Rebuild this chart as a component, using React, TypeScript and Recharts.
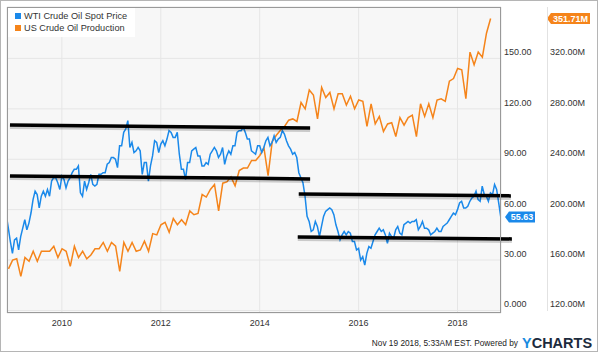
import React from 'react';
import {
  CartesianGrid,
  ComposedChart,
  Line,
  ReferenceLine,
  XAxis,
  YAxis,
} from 'recharts';

const FONT = '"Liberation Sans", Arial, Helvetica, sans-serif';
const BLUE = '#1a89ea';
const ORANGE = '#f5841a';

// WTI spot price, semi-monthly readings (1st / 16th of each month)
const wti2008Times = [2008.89, 2008.917, 2008.958];
const wti2008 = [54, 49, 41];
const wti2009 = [34, 42, 43, 36, 44, 49, 54, 48, 52, 58, 66, 71, 69, 61, 68, 71, 68, 72, 68, 77, 79, 79, 76, 72];
const wti2010 = [80, 78, 73, 77, 79, 82, 84, 84, 86, 70, 68, 77, 72, 76, 81, 75, 74, 75, 81, 81, 82, 82, 87, 88];
const wti2011 = [91, 91, 90, 85, 98, 98, 106, 108, 113, 97, 100, 94, 95, 97, 95, 81, 88, 88, 77, 86, 92, 101, 100, 94];
const wti2012 = [99, 101, 98, 102, 107, 106, 103, 103, 106, 93, 84, 84, 78, 88, 88, 95, 96, 97, 92, 92, 86, 86, 88, 87];
const wti2013 = [93, 95, 97, 95, 91, 93, 97, 87, 92, 95, 93, 98, 98, 106, 107, 107, 109, 106, 102, 102, 95, 94, 93, 98];
const wti2014 = [98, 94, 97, 101, 103, 98, 100, 104, 100, 102, 103, 107, 105, 101, 98, 96, 93, 94, 91, 82, 79, 76, 68, 56];
const wti2015 = [53, 47, 48, 53, 50, 44, 50, 56, 59, 60, 61, 60, 57, 51, 47, 42, 45, 47, 45, 47, 46, 41, 41, 36];
const wti2016 = [37, 30, 32, 27, 34, 38, 37, 41, 45, 47, 49, 47, 48, 45, 40, 46, 44, 43, 48, 50, 46, 45, 51, 52];
const wti2017 = [53, 52, 53, 53, 54, 48, 50, 53, 49, 49, 48, 45, 46, 47, 49, 47, 47, 50, 51, 52, 54, 56, 58, 57];
const wti2018 = [60, 64, 65, 61, 61, 62, 65, 67, 68, 71, 66, 65, 74, 69, 68, 65, 70, 69, 75, 72, 64, 55.63];

// US crude oil production, monthly totals in millions of barrels
const prod2008 = [153, 160];
const prod2009 = [161, 147, 162, 159, 167, 159, 167, 167, 167, 171, 162, 169];
const prod2010 = [167, 155, 171, 162, 167, 161, 164, 169, 169, 174, 167, 174];
const prod2011 = [171, 151, 174, 167, 174, 167, 168, 175, 167, 181, 180, 188];
const prod2012 = [190, 182, 193, 188, 192, 188, 199, 196, 197, 212, 210, 216];
const prod2013 = [220, 199, 221, 222, 226, 219, 231, 233, 233, 239, 239, 243];
const prod2014 = [249, 227, 254, 259, 263, 266, 271, 272, 270, 285, 280, 295];
const prod2015 = [291, 272, 297, 289, 293, 280, 292, 292, 283, 290, 280, 287];
const prod2016 = [286, 266, 284, 268, 274, 262, 268, 269, 258, 273, 267, 273];
const prod2017 = [275, 258, 284, 274, 284, 273, 287, 288, 286, 302, 304, 312];
const prod2018 = [311, 288, 325, 315, 325, 321, 340, 351.71];

const yearTicks = [2010, 2012, 2014, 2016, 2018];
const priceTicks = [0, 30, 60, 90, 120, 150];
const prodTicks = [120, 160, 200, 240, 280, 320];

// hand drawn channel lines (price axis)
const trendLines = [
  { x1: 2008.95, y1: 110.4, x2: 2015.02, y2: 108.6 },
  { x1: 2008.95, y1: 80.1, x2: 2015.02, y2: 78.3 },
  { x1: 2014.79, y1: 69.3, x2: 2019.08, y2: 68.2 },
  { x1: 2014.77, y1: 43.8, x2: 2019.1, y2: 42.6 },
];

const wtiByYear: [number, number[]][] = [
  [2009, wti2009], [2010, wti2010], [2011, wti2011], [2012, wti2012], [2013, wti2013],
  [2014, wti2014], [2015, wti2015], [2016, wti2016], [2017, wti2017], [2018, wti2018],
];

const wtiData = [
  ...wti2008.map((v, i) => ({ t: wti2008Times[i], wti: v })),
  ...wtiByYear.flatMap(([y, vals]) => vals.map((v, i) => ({ t: y + i / 24, wti: v }))),
];

const prodByYear: [number, number, number[]][] = [
  [2008, 10, prod2008], [2009, 0, prod2009], [2010, 0, prod2010], [2011, 0, prod2011],
  [2012, 0, prod2012], [2013, 0, prod2013], [2014, 0, prod2014], [2015, 0, prod2015],
  [2016, 0, prod2016], [2017, 0, prod2017], [2018, 0, prod2018],
];

// plotted at month end
const prodData = prodByYear.flatMap(([y, start, vals]) =>
  vals.map((v, i) => ({ t: y + (start + i + 1) / 12 + 0.003, prod: v }))
);

const PriceTick = (props: any) => {
  const { y, payload } = props;
  const v = payload.value;
  return (
    <text x={504} y={y - 3} fontSize={9} fill="#333" fontFamily={FONT}>
      {v === 0 ? '0.000' : v.toFixed(2)}
    </text>
  );
};

const ProdTick = (props: any) => {
  const { y, payload } = props;
  return (
    <text x={550} y={y - 3} fontSize={9} fill="#333" fontFamily={FONT}>
      {payload.value.toFixed(2) + 'M'}
    </text>
  );
};

const YearTick = (props: any) => {
  const { x, payload } = props;
  return (
    <text x={x} y={326} textAnchor="middle" fontSize={9} fill="#333" fontFamily={FONT}>
      {payload.value}
    </text>
  );
};

const Tag: React.FC<{ y: number; tipX: number; width: number; color: string; text: string }> = ({
  y, tipX, width, color, text,
}) => (
  <g>
    <polygon
      points={`${tipX},${y} ${tipX + 4},${y - 5.5} ${tipX + width},${y - 5.5} ${tipX + width},${y + 5.5} ${tipX + 4},${y + 5.5}`}
      fill={color}
    />
    <text
      x={tipX + 4 + (width - 4) / 2}
      y={y + 3.3}
      textAnchor="middle"
      fontSize={9}
      fontWeight="bold"
      fill="#fff"
      fontFamily={FONT}
    >
      {text}
    </text>
  </g>
);

const wtiLabel = (props: any) => {
  if (props.index !== wtiData.length - 1) return <g />;
  return <Tag y={props.y} tipX={505} width={30} color={BLUE} text={props.value.toFixed(2)} />;
};

const prodLabel = (props: any) => {
  if (props.index !== prodData.length - 1) return <g />;
  return <Tag y={props.y} tipX={547} width={43} color={ORANGE} text={props.value.toFixed(2) + 'M'} />;
};

export default function App() {
  return (
    <div style={{ position: 'absolute', left: 0, top: 0, width: 600, height: 353, background: '#fff', fontFamily: FONT }}>
      <ComposedChart width={600} height={353} margin={{ top: 7, right: 0, bottom: 0, left: 7 }}>
        <CartesianGrid yAxisId="price" stroke="#e6e6e6" fill="#f7f7f7" />
        <XAxis
          type="number"
          dataKey="t"
          domain={[2008.89, 2018.88]}
          allowDataOverflow
          ticks={yearTicks}
          tick={<YearTick />}
          tickLine={false}
          axisLine={false}
          height={40}
        />
        <YAxis
          yAxisId="price"
          orientation="right"
          type="number"
          domain={[-1.5, 180.6]}
          allowDataOverflow
          ticks={priceTicks}
          tick={<PriceTick />}
          tickLine={false}
          axisLine={false}
          width={46}
        />
        <YAxis
          yAxisId="prod"
          orientation="right"
          type="number"
          domain={[118, 360.8]}
          allowDataOverflow
          ticks={prodTicks}
          tick={<ProdTick />}
          tickLine={false}
          axisLine={false}
          width={53}
        />
        <Line
          yAxisId="prod"
          data={prodData}
          dataKey="prod"
          stroke={ORANGE}
          strokeWidth={1.5}
          dot={false}
          type="linear"
          isAnimationActive={false}
          label={prodLabel}
        />
        <Line
          yAxisId="price"
          data={wtiData}
          dataKey="wti"
          stroke={BLUE}
          strokeWidth={1.5}
          dot={false}
          type="linear"
          isAnimationActive={false}
          label={wtiLabel}
        />
        {trendLines.map((s, i) => (
          <ReferenceLine
            key={'s' + i}
            yAxisId="price"
            ifOverflow="visible"
            segment={[{ x: s.x1, y: s.y1 - 0.9 }, { x: s.x2, y: s.y2 - 0.9 }]}
            stroke="rgba(0,0,0,0.18)"
            strokeWidth={5}
          />
        ))}
        {trendLines.map((s, i) => (
          <ReferenceLine
            key={'t' + i}
            yAxisId="price"
            ifOverflow="visible"
            segment={[{ x: s.x1, y: s.y1 }, { x: s.x2, y: s.y2 }]}
            stroke="#000"
            strokeWidth={3.5}
          />
        ))}
      </ComposedChart>
      <svg
        width={600}
        height={353}
        style={{ position: 'absolute', left: 0, top: 0, pointerEvents: 'none' }}
      >
        <rect x={0.5} y={0.5} width={597} height={351} fill="none" stroke="#b5b5b5" />
        <rect x={7.5} y={7.5} width={493} height={305} fill="none" stroke="#999" />
        <line x1={547.5} y1={7} x2={547.5} y2={311} stroke="#e2e2e2" />
        <rect x={8} y={8} width={127} height={29} fill="#fff" />
        <rect x={15} y={13} width={6} height={6} fill={BLUE} />
        <rect x={15} y={25} width={6} height={6} fill={ORANGE} />
        <text x={24} y={19.3} fontSize={9.2} fill="#333" fontFamily={FONT}>
          WTI Crude Oil Spot Price
        </text>
        <text x={24} y={31.3} fontSize={9.2} fill="#333" fontFamily={FONT}>
          US Crude Oil Production
        </text>
        <text x={518} y={346} textAnchor="end" fontSize={8.3} fill="#222" fontFamily={FONT}>
          Nov 19 2018, 5:33AM EST.  Powered by
        </text>
        <text x={522} y={347.5} fontSize={14.5} fontWeight="bold" fontFamily={FONT}>
          <tspan fill="#1a8be0">Y</tspan>
          <tspan fill="#1c2b3d">CHARTS</tspan>
        </text>
      </svg>
    </div>
  );
}
